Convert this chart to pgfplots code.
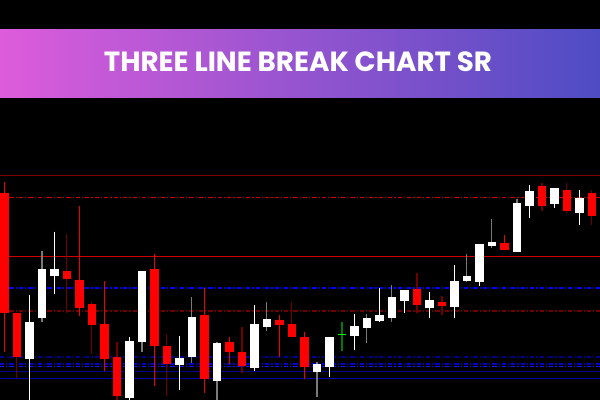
\documentclass[border=0pt]{standalone}
\usepackage{pgfplots}
\pgfplotsset{compat=1.18}
\usepackage{pgfplotstable}
\usepackage{fontspec}
\newfontfamily\popp{Poppins}
\definecolor{bodyred}{HTML}{FF0000}
\definecolor{wickred}{HTML}{F00000}
\definecolor{wickdark}{HTML}{6E0000}
\definecolor{wickgray}{HTML}{7A7A7A}
\definecolor{dkgreen}{HTML}{007A00}
\definecolor{brgreen}{HTML}{00FF00}
\definecolor{bannerL}{HTML}{DD5CDB}
\definecolor{bannerR}{HTML}{4E4CC4}
\definecolor{lnDarkRed}{HTML}{800000}
\definecolor{lnRed}{HTML}{D00000}
\definecolor{lnDDR}{HTML}{700000}
\definecolor{lnBlue}{HTML}{0000FF}
\definecolor{lnNavy}{HTML}{000088}
\definecolor{lnBlue2}{HTML}{0000D0}
\definecolor{lnBlue3}{HTML}{1414FF}
\definecolor{lnDkBlue}{HTML}{000090}
\definecolor{lnBlue4}{HTML}{0000B0}

% candles in chart pixel units: x centre, wick top, wick bottom, body top, body bottom
\pgfplotstableread{
x wt wb bt bb
4.5 181.7 351.7 192.7 312.7
79.3 206 315.7 280 307.7
104.5 281 370.7 324 358.7
154.3 254 385.7 269 346
204.5 288.3 392.7 315 378.7
229.5 337 363.7 342 351.7
279.3 315 357 320 325
304.5 332.3 378.7 337 366.7
504.5 235 250.3 243.3 250.3
}\RR
\pgfplotstableread{
x wt wb bt bb
16.8 312.7 378.3 312.7 357
66.7 234 312.7 270.7 279
91.8 301.7 353.7 304 325
117 342 402 357 396
166.7 334 396 346.3 363.7
242 327 372.7 352 366
291.8 302 336.7 324 336.7
417 273 313.3 288.7 305
442 296 315 302 305.7
542 183.3 210.7 186 205.7
566.7 183.3 212.7 190 211
591.8 190 225 193.3 215.7
}\RD
\pgfplotstableread{
x wt wb bt bb
29.5 295 402 322 358.7
54.3 231.7 293.7 269 276
129.5 337 402 341 397.7
179.3 336 390 358.3 365.3
254.3 305 370.7 324.3 368.3
329.5 337 376.7 337 366.7
354.3 314.3 350 326 335.7
379.3 288.3 322.3 315 320.7
404.5 290 313.3 290 301
429.5 292.3 318.3 300 307.7
454.3 265 318.3 281 307.3
479.3 244 286 244 281.7
529.5 185 217.7 191 205.7
554.3 188 207.7 188 204.3
579.3 190 225 197.7 212.7
}\WW
\pgfplotstableread{
x wt wb bt bb
42 251 322 269 318.3
142 270.7 351.7 270.7 342.3
191.8 297 363.3 317 356.7
217 342 402 343.3 380.7
266.7 302 330.7 319 326.7
317 361.7 396.7 364 372.3
366.7 314 342.7 317.7 327.7
391.8 285.3 322 297 318.3
466.7 254 282 276.3 280.7
491.8 219 247.7 242 245.7
517 199.3 251.7 202.7 251.7
}\WG

\pgfplotsset{
  wick/.style={draw=none, mark=none, forget plot,
    error bars/.cd, y dir=plus, y explicit, error mark=none,
    error bar style={draw=#1, solid, line width=0.85pt}},
  body/.style={draw=none, mark=none, forget plot,
    error bars/.cd, y dir=plus, y explicit, error mark=none,
    error bar style={draw=#1, solid, line width=6.3pt, line cap=butt}},
  hl/.style={forget plot, no marks, line width=0.9pt, draw=#1},
  dd/.style={dash pattern=on 3.2pt off 1.5pt on 0.9pt off 1.5pt},
}

\begin{document}
\begin{tikzpicture}
\begin{axis}[
  scale only axis, width=450pt, height=300pt,
  xmin=0, xmax=600, ymin=0, ymax=400, y dir=reverse,
  hide axis, clip=true,
]
\fill[black] (axis cs:0,0) rectangle (axis cs:600,400);

% horizontal levels
\addplot[hl=lnDarkRed] coordinates {(0,175.3) (600,175.3)};
\addplot[hl=lnRed, dd, line width=1.1pt] coordinates {(0,197.3) (600,197.3)};
\addplot[hl=lnRed, line width=1.2pt] coordinates {(0,256.3) (600,256.3)};
\addplot[hl=lnBlue, dd, line width=1.3pt] coordinates {(0,288.3) (600,288.3)};
\addplot[hl=lnDDR, dd, line width=1.6pt] coordinates {(0,310.7) (600,310.7)};
\addplot[hl=lnNavy, dd, line width=1.2pt] coordinates {(0,357) (600,357)};
\addplot[hl=lnBlue2, dd] coordinates {(0,364) (600,364)};
\addplot[hl=lnBlue3, dd] coordinates {(0,366.3) (600,366.3)};
\addplot[hl=lnDkBlue] coordinates {(0,371.3) (600,371.3)};
\addplot[hl=lnBlue4, line width=1.1pt] coordinates {(0,378.7) (600,378.7)};

% wicks
\addplot[wick=wickred] table[x=x, y=wt, y error expr=\thisrow{wb}-\thisrow{wt}] {\RR};
\addplot[wick=wickdark] table[x=x, y=wt, y error expr=\thisrow{wb}-\thisrow{wt}] {\RD};
\addplot[wick=white] table[x=x, y=wt, y error expr=\thisrow{wb}-\thisrow{wt}] {\WW};
\addplot[wick=wickgray] table[x=x, y=wt, y error expr=\thisrow{wb}-\thisrow{wt}] {\WG};

% bodies
\addplot[body=bodyred] table[x=x, y=bt, y error expr=\thisrow{bb}-\thisrow{bt}] {\RR};
\addplot[body=bodyred] table[x=x, y=bt, y error expr=\thisrow{bb}-\thisrow{bt}] {\RD};
\addplot[body=white] table[x=x, y=bt, y error expr=\thisrow{bb}-\thisrow{bt}] {\WW};
\addplot[body=white] table[x=x, y=bt, y error expr=\thisrow{bb}-\thisrow{bt}] {\WG};

% green doji
\addplot[draw=none, mark=none, forget plot, error bars/.cd, y dir=plus, y explicit, error mark=none,
  error bar style={draw=dkgreen, solid, line width=1.1pt}] coordinates {(342,322) += (0,29)};
\addplot[draw=none, mark=none, forget plot, error bars/.cd, x dir=both, x explicit, error mark=none,
  error bar style={draw=brgreen, solid, line width=0.75pt}] coordinates {(342,334.3) +- (4.2,0)};

% banner
\path[left color=bannerL, right color=bannerR] (axis cs:0,29) rectangle (axis cs:600,97);
\node[anchor=base, text=white, inner sep=0pt, font=\popp\bfseries\fontsize{20.8}{24}\selectfont]
  at (axis cs:298,71.7) {THREE LINE BREAK CHART SR};
\end{axis}
\end{tikzpicture}
\end{document}
